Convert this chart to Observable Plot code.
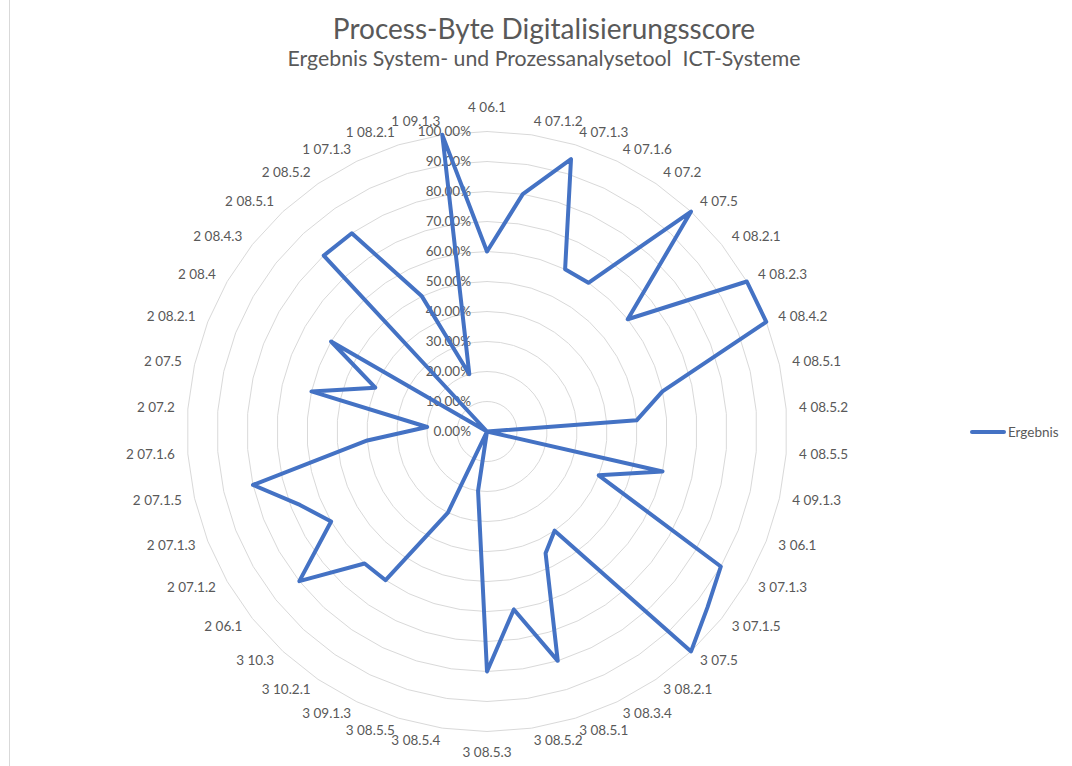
<!DOCTYPE html>
<html>
<head>
<meta charset="utf-8">
<script src="https://cdn.jsdelivr.net/npm/d3@7"></script>
<script src="https://cdn.jsdelivr.net/npm/@observablehq/plot@0.6"></script>
<style>
  body { margin: 0; background: #fff; }
  #wrap { position: relative; width: 1072px; height: 766px; overflow: hidden; font-family: Lato, "Open Sans", sans-serif; color: #595959; background: #fff; }
  #border { position: absolute; left: 9px; top: 0; width: 1px; height: 766px; background: #d9d9d9; }
  #title { position: absolute; left: 0; width: 1088px; top: 12.5px; text-align: center; font-size: 28px; line-height: 30px; white-space: pre; }
  #subtitle { position: absolute; left: 0; width: 1088px; top: 45.5px; text-align: center; font-size: 21.3px; line-height: 24px; white-space: pre; }
  #chart { position: absolute; left: 0; top: 0; }
  #legend { position: absolute; left: 970px; top: 422px; height: 20px; display: flex; align-items: center; font-size: 13.5px; }
  #legend .sw { width: 36px; height: 4px; background: #4472C4; border-radius: 2px; margin-right: 2px; }
</style>
</head>
<body>
<div id="wrap">
  <div id="border"></div>
  <div id="chart"></div>
  <div id="title">Process-Byte Digitalisierungsscore</div>
  <div id="subtitle">Ergebnis System- und Prozessanalysetool  ICT-Systeme</div>
  <div id="legend"><span class="sw"></span><span id="legendLabel">Ergebnis</span></div>
</div>
<script>
const categories = ["4 06.1","4 07.1.2","4 07.1.3","4 07.1.6","4 07.2","4 07.5","4 08.2.1","4 08.2.3","4 08.4.2","4 08.5.1","4 08.5.2","4 08.5.5","4 09.1.3",
  "3 06.1","3 07.1.3","3 07.1.5","3 07.5","3 08.2.1","3 08.3.4","3 08.5.1","3 08.5.2","3 08.5.3","3 08.5.4","3 08.5.5","3 09.1.3","3 10.2.1","3 10.3",
  "2 06.1","2 07.1.2","2 07.1.3","2 07.1.5","2 07.1.6","2 07.2","2 07.5","2 08.2.1","2 08.4","2 08.4.3","2 08.5.1","2 08.5.2",
  "1 07.1.3","1 08.2.1","1 09.1.3"];
const values = [60, 80, 95, 60, 60, 100, 60, 100, 100, 60, 50, 0, 60,
  40, 90, 94, 100, 40, 45, 80, 60, 80, 20, 0, 30, 60, 60,
  80, 60, 67, 80, 40, 20, 60, 40, 60, 0, 80, 80,
  50, 20, 100];
const seriesName = "Ergebnis";
const ticks = [0, 10, 20, 30, 40, 50, 60, 70, 80, 90, 100];
const tickLabels = ticks.map(t => t.toFixed(2) + "%");

const W = 1072, H = 766, cx = 486.5, cy = 431, R = 300;
const n = categories.length;
const ang = i => 2 * Math.PI * i / n;
const px = (r, i) => r * Math.sin(ang(i));
const py = (r, i) => r * Math.cos(ang(i));
const LR = 313 / R;
const idx = d3.range(n);
const rightIdx = idx.filter(i => i > 0 && i < n / 2);
const leftIdx = idx.filter(i => i > n / 2);
const topIdx = [0];
const bottomIdx = idx.filter(i => i === n / 2);

const rings = [];
for (const t of ticks.filter(t => t > 0)) for (const i of [...idx, 0]) rings.push({ r: t / 100, i });

const textColor = "#595959";
const fs = 13.5;
const labelOpts = (anchor, dy) => ({
  x: i => px(LR, i), y: i => py(LR, i), text: i => categories[i],
  textAnchor: anchor, dy, fill: textColor, fontSize: fs
});

const plot = Plot.plot({
  width: W, height: H, margin: 0,
  x: { domain: [-cx / R, (W - cx) / R], axis: null },
  y: { domain: [-(H - cy) / R, cy / R], axis: null },
  style: { fontFamily: "Lato, 'Open Sans', sans-serif", background: "transparent", overflow: "visible" },
  marks: [
    Plot.line(rings, { x: d => px(d.r, d.i), y: d => py(d.r, d.i), z: "r", stroke: "#d9d9d9", strokeWidth: 1 }),
    Plot.text(rightIdx, labelOpts("start", 0)),
    Plot.text(leftIdx, labelOpts("end", 0)),
    Plot.text(topIdx, labelOpts("middle", -11)),
    Plot.text(bottomIdx, labelOpts("middle", 8)),
    Plot.text(ticks, { x: 0, y: t => t / 100, dx: -16, textAnchor: "end", text: (t, k) => tickLabels[k], fill: textColor, fontSize: fs }),
    Plot.line([...idx, 0], { x: i => px(values[i] / 100, i), y: i => py(values[i] / 100, i), stroke: "#4472C4", strokeWidth: 4, strokeLinejoin: "round", strokeLinecap: "round" })
  ]
});
document.getElementById("chart").appendChild(plot);
document.getElementById("legendLabel").textContent = seriesName;
</script>
</body>
</html>
